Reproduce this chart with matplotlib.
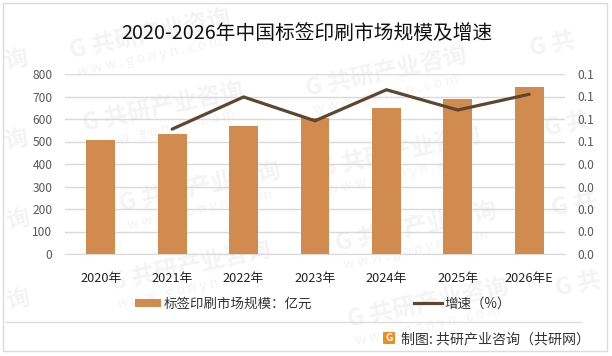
import matplotlib
matplotlib.use("Agg")
import matplotlib.pyplot as plt
from matplotlib.lines import Line2D
from matplotlib.patches import FancyBboxPatch, Rectangle

plt.rcParams["font.family"] = ["Noto Sans CJK SC", "DejaVu Sans"]

years = ["2020年", "2021年", "2022年", "2023年", "2024年", "2025年", "2026年E"]
market_size = [507, 533, 569, 604, 649, 689, 742]
growth = [0.0555, 0.0698, 0.0592, 0.0730, 0.0640, 0.0710]
left_ticks = [0, 100, 200, 300, 400, 500, 600, 700, 800]
right_ticks = [0, 0.01, 0.02, 0.03, 0.04, 0.05, 0.06, 0.07, 0.08]

BAR = "#D28B4E"
LINE = "#5F4630"
GRID = "#D9D9D9"
MARK = "#F4F4F4"
W, H = 612, 356

fig = plt.figure(figsize=(W / 100, H / 100), dpi=100)
ax = fig.add_axes([65 / W, 1 - 254 / H, 500 / W, 180 / H], zorder=2)
ax2 = ax.twinx()
ax2.set_zorder(3)
ax.patch.set_visible(False)
ax2.patch.set_visible(False)

x = list(range(len(years)))
ax.bar(x, market_size, width=0.405, color=BAR, zorder=3)
ax.set_xlim(-0.5, 6.5)
ax.set_ylim(0, 800)
ax.set_yticks(left_ticks)
ax.set_xticks(x, years, fontsize=9.2, color="#222222")
ax.tick_params(axis="x", length=0, pad=13)
ax.tick_params(axis="y", length=0, pad=9, labelsize=8.6, labelcolor="#595959")
ax.grid(axis="y", color=GRID, lw=1, zorder=1)
ax.set_axisbelow(True)
for side in ["top", "left", "right"]:
    ax.spines[side].set_visible(False)
ax.spines["bottom"].set_color(GRID)

ax2.plot(x[1:], growth, color=LINE, lw=2.3, solid_capstyle="round", solid_joinstyle="miter")
ax2.set_ylim(0, 0.08)
ax2.set_yticks(right_ticks, [f"{t:.1f}" for t in right_ticks])
ax2.tick_params(axis="y", length=0, pad=9, labelsize=8.6, labelcolor="#595959")
for side in ax2.spines:
    ax2.spines[side].set_visible(False)

# watermark, whole ones then the pieces that sit at the picture's edges
overlay = fig.add_axes([0, 0, 1, 1], zorder=0)
overlay.set_xlim(0, W)
overlay.set_ylim(H, 0)
overlay.axis("off")
marks = [(70, 52), (83, 125), (120, 205), (110, 284), (306, 90), (320, 170), (336, 245), (348, 321)]
for mx, my in marks:
    overlay.text(mx, my, "G 共研产业咨询", fontsize=17, fontweight="bold", color=MARK,
                 rotation=12, rotation_mode="anchor", ha="left", va="center", zorder=1)
    overlay.text(mx + 8, my + 20, "w w w . g o n y n . c o m", fontsize=10, color=MARK,
                 rotation=12, rotation_mode="anchor", ha="left", va="center", zorder=1)
for mx, my in [(4, 62), (4, 142), (6, 222), (6, 302)]:
    overlay.text(mx, my, "询", fontsize=17, fontweight="bold", color=MARK,
                 rotation=12, rotation_mode="anchor", ha="left", va="center", zorder=1)
for mx, my in [(530, 50), (545, 130), (552, 210), (556, 290)]:
    overlay.text(mx, my, "G 共", fontsize=17, fontweight="bold", color=MARK,
                 rotation=12, rotation_mode="anchor", ha="left", va="center", zorder=1)

# frame
overlay.add_patch(Rectangle((2.5, 2.5), 604.5, 348.5, fill=False, ec="#DCDCDC", lw=1, zorder=2))
overlay.add_line(Line2D([6, 581], [322, 322], color="#DCDCDC", lw=1, zorder=2))

overlay.text(307, 33, "2020-2026年中国标签印刷市场规模及增速", fontsize=14.2,
             color="#111111", ha="center", va="center", zorder=3)

# legend
overlay.add_patch(Rectangle((135, 299), 26, 8, color=BAR, lw=0, zorder=3))
overlay.text(164, 303.5, "标签印刷市场规模：亿元", fontsize=9.7, color="#333333", va="center", zorder=3)
overlay.add_line(Line2D([414, 442], [303, 303], color=LINE, lw=2.3, zorder=3))
overlay.text(444, 303.5, "增速（%）", fontsize=9.7, color="#333333", va="center", zorder=3)

# source
overlay.add_patch(FancyBboxPatch((384, 333), 10, 10, boxstyle="round,pad=1", fc="#F08A24", ec="none", zorder=3))
overlay.text(389, 338, "G", fontsize=7.5, fontweight="bold", color="white", ha="center", va="center", zorder=4)
overlay.text(401, 339.5, "制图: 共研产业咨询（共研网）", fontsize=10.1, color="#333333", va="center", zorder=3)

fig.savefig("out.png", dpi=100)
plt.close(fig)
